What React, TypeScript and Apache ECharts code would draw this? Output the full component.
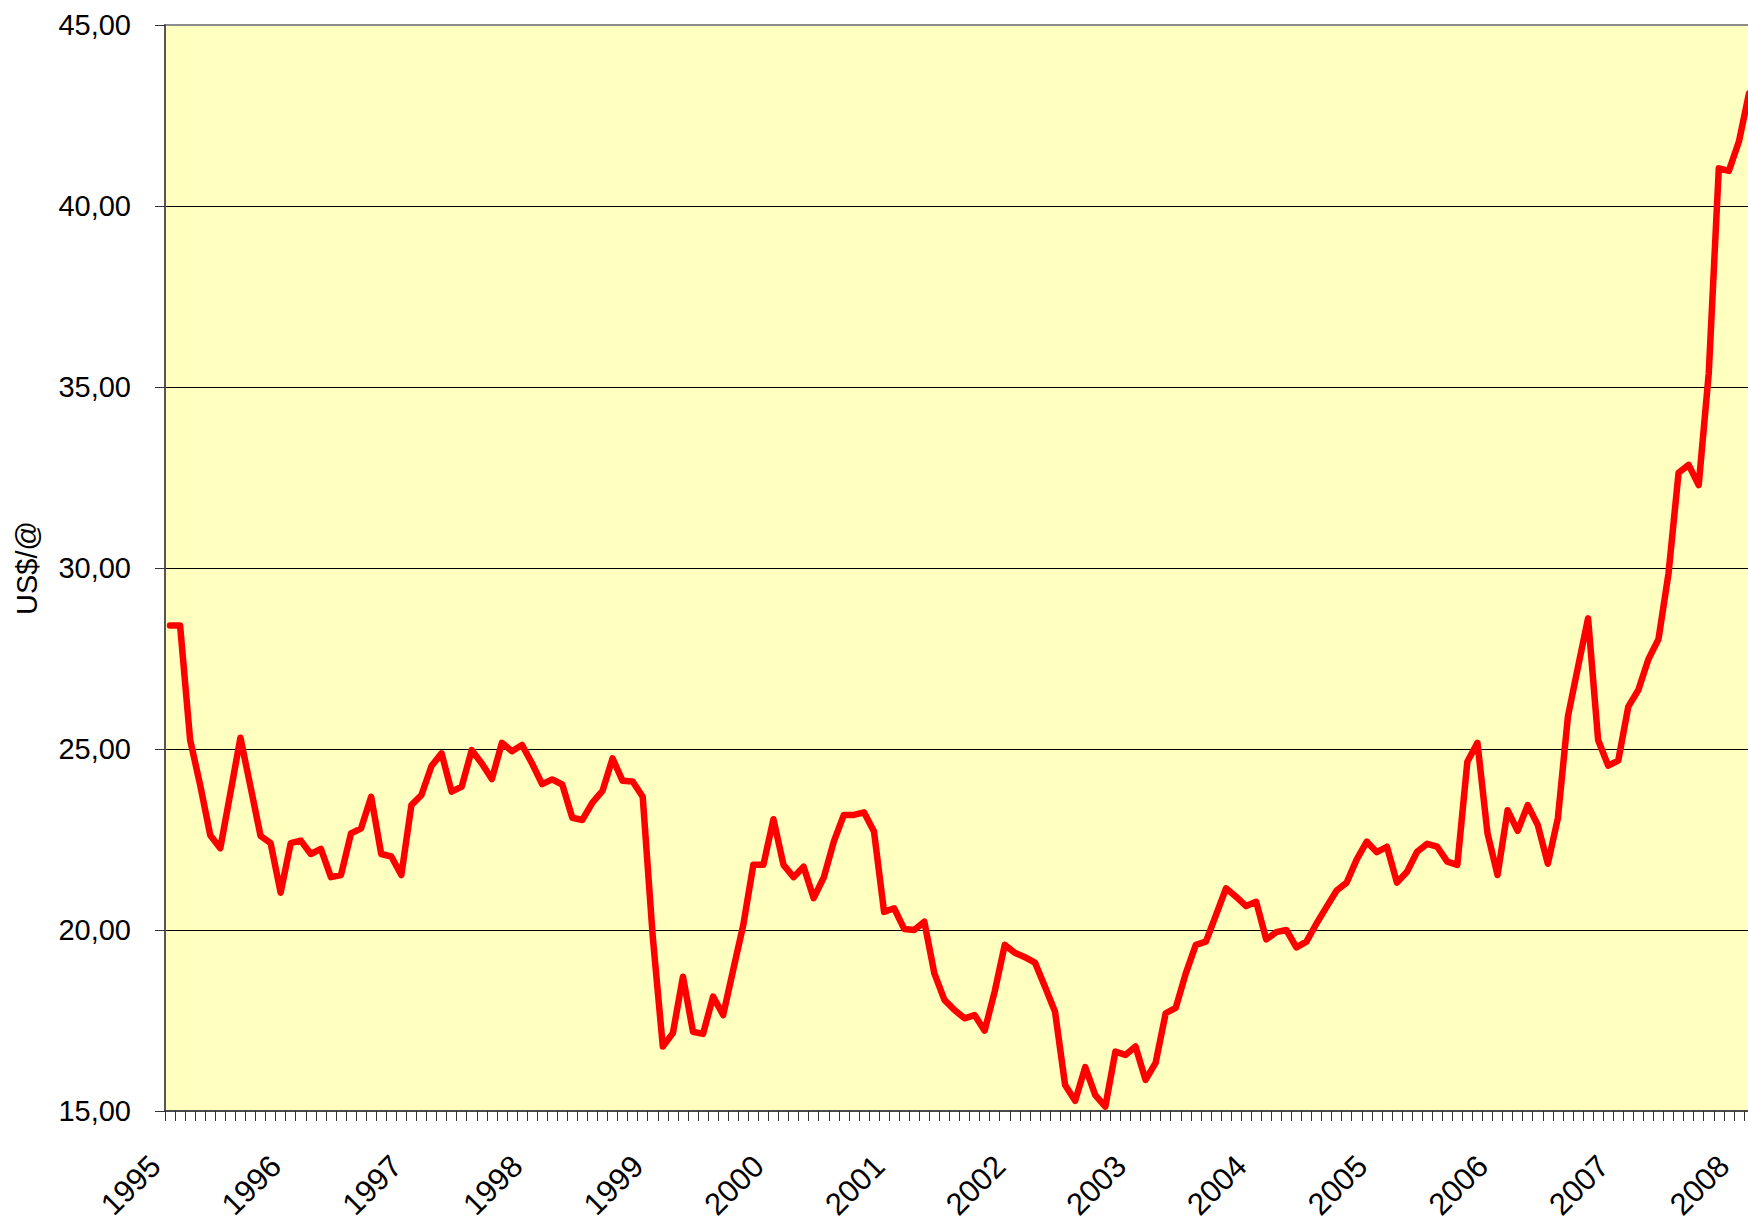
import React, { useEffect, useRef } from "react";
import * as echarts from "echarts";

// Monthly prices, US$/@, Jan 1995 - Feb 2008
const startYear = 1995;
const prices1995_1999 = [
  28.41, 28.41, 25.25, 24.0, 22.62, 22.26, 23.78, 25.31, 23.96, 22.6, 22.4, 21.03,
  22.4, 22.47, 22.1, 22.24, 21.46, 21.52, 22.67, 22.81, 23.68, 22.1, 22.03, 21.52,
  23.45, 23.73, 24.53, 24.88, 23.82, 23.96, 24.97, 24.6, 24.17, 25.17, 24.94, 25.11,
  24.6, 24.03, 24.16, 24.02, 23.1, 23.04, 23.52, 23.84, 24.74, 24.12, 24.1, 23.68,
  19.81, 16.78, 17.15, 18.71, 17.19, 17.13, 18.16, 17.65, 18.9, 20.14, 21.8, 21.8,
];
const prices2000_2004 = [
  23.06, 21.8, 21.46, 21.75, 20.88, 21.45, 22.44, 23.18, 23.18, 23.25, 22.72, 20.5,
  20.6, 20.03, 20.0, 20.23, 18.8, 18.07, 17.79, 17.56, 17.65, 17.22, 18.3, 19.59,
  19.37, 19.25, 19.1, 18.43, 17.74, 15.72, 15.28, 16.21, 15.44, 15.12, 16.64, 16.55,
  16.78, 15.86, 16.33, 17.7, 17.85, 18.8, 19.59, 19.68, 20.41, 21.15, 20.92, 20.66,
  20.78, 19.74, 19.94, 20.0, 19.52, 19.68, 20.18, 20.64, 21.09, 21.31, 21.95, 22.44,
];
const prices2005_2008 = [
  22.15, 22.3, 21.31, 21.61, 22.16, 22.38, 22.3, 21.89, 21.8, 24.65, 25.17, 22.67,
  21.52, 23.31, 22.74, 23.45, 22.9, 21.83, 23.09, 25.9, 27.27, 28.61, 25.25, 24.54,
  24.68, 26.17, 26.63, 27.48, 28.03, 29.85, 32.63, 32.85, 32.29, 35.38, 41.04, 40.97,
  41.78, 43.11,
];
const prices = [...prices1995_1999, ...prices2000_2004, ...prices2005_2008];

const months = prices.map((_, i) => {
  const y = startYear + Math.floor(i / 12);
  const m = (i % 12) + 1;
  return `${y}-${m < 10 ? "0" + m : m}`;
});

const yMin = 15;
const yMax = 45;
const yStep = 5;

const FONT = "'Liberation Sans', Arial, sans-serif";

export default function App() {
  const ref = useRef<HTMLDivElement>(null);

  useEffect(() => {
    if (!ref.current) return;
    const chart = echarts.init(ref.current, undefined, { renderer: "svg" });
    chart.setOption({
      animation: false,
      backgroundColor: "#ffffff",
      grid: {
        left: 165,
        top: 25,
        right: 0,
        height: 1086,
        outerBoundsMode: "none",
        containLabel: false,
        show: true,
        backgroundColor: "#FFFFC0",
        borderColor: "#8c8c8c",
        borderWidth: 2,
      },
      xAxis: {
        type: "category",
        data: months,
        boundaryGap: true,
        axisLine: { show: true, lineStyle: { color: "#333333", width: 1.5 } },
        axisTick: {
          show: true,
          interval: 0,
          length: 10,
          lineStyle: { color: "#333333", width: 1 },
        },
        axisLabel: {
          interval: (index: number) => index % 12 === 0,
          rotate: 45,
          margin: 35,
          padding: [0, 21, 0, 0],
          fontSize: 31,
          color: "#000000",
          fontFamily: FONT,
          formatter: (v: string) => v.slice(0, 4),
        },
        splitLine: { show: false },
      },
      yAxis: {
        type: "value",
        min: yMin,
        max: yMax,
        interval: yStep,
        name: "US$/@",
        nameLocation: "middle",
        nameGap: 124,
        nameTextStyle: { fontSize: 29, color: "#000000", fontFamily: FONT },
        axisLine: { show: true, lineStyle: { color: "#555555", width: 2 } },
        axisTick: { show: true, length: 10, lineStyle: { color: "#333333", width: 1 } },
        axisLabel: {
          margin: 34,
          fontSize: 29,
          color: "#000000",
          fontFamily: FONT,
          formatter: (v: number) => v.toFixed(2).replace(".", ","),
        },
        splitLine: {
          show: true,
          showMinLine: false,
          showMaxLine: false,
          lineStyle: { color: "#000000", width: 1 },
        },
      },
      series: [
        {
          type: "line",
          data: prices,
          showSymbol: false,
          symbol: "none",
          lineStyle: { color: "#FF0000", width: 6.5, join: "round", cap: "round" },
        },
      ],
    });
    return () => chart.dispose();
  }, []);

  return (
    <div
      style={{ position: "fixed", left: 0, top: 0, width: 1748, height: 1217, overflow: "hidden" }}
    >
      <div ref={ref} style={{ width: 1754, height: 1217 }} />
    </div>
  );
}
